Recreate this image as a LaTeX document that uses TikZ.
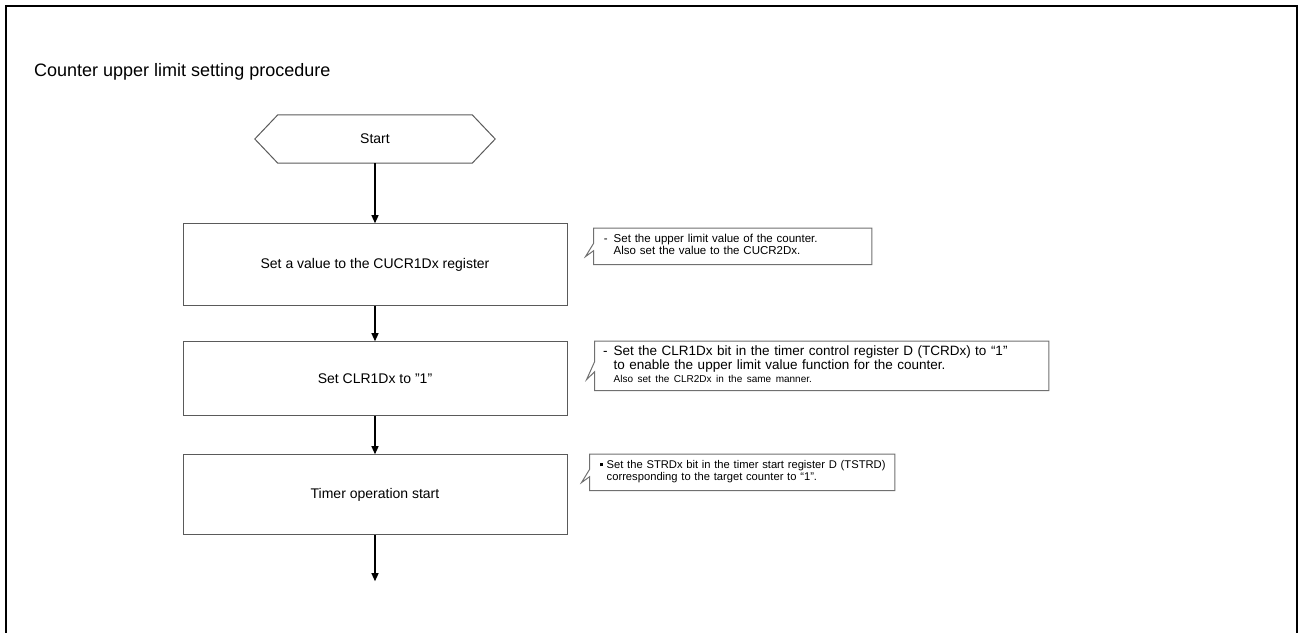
\documentclass[tikz,border=0pt]{standalone}
\usepackage{fontspec}
\setmainfont{Liberation Sans}
\usetikzlibrary{arrows.meta,positioning,calc}
\definecolor{ink}{HTML}{000000}
\definecolor{boxline}{HTML}{5A5A5A}
\definecolor{noteline}{HTML}{707070}
\tikzset{
  >={Triangle[length=8pt,width=7pt]},
  every node/.style={text=ink},
  frame/.style={draw=ink,line width=2.5pt},
  title/.style={anchor=west,inner sep=0pt,font=\fontsize{18}{20}\selectfont},
  startbox/.style={minimum width=240pt,minimum height=48pt,inner sep=0pt,font=\fontsize{14}{16}\selectfont},
  startline/.style={draw=boxline,line width=1pt},
  stepbox/.style={draw=boxline,line width=1pt,minimum width=384pt,align=center,font=\fontsize{14}{16}\selectfont},
  note/.style={fill=white,anchor=north west,inner xsep=0pt,inner ysep=2pt,align=left,font=\fontsize{11.5}{12}\selectfont},
  noteline/.style={draw=noteline,line width=1pt},
  arrow/.style={->,draw=ink,line width=1.3pt},
}
\newcommand{\notedash}{\llap{-\hspace{6pt}}}
\newcommand{\notesquare}{\llap{\raisebox{2.5pt}{\rule{3pt}{3pt}}\hspace{4pt}}}
\newcommand{\notesmall}{\fontsize{10}{11}\selectfont}
\newcommand{\notebody}[2]{\hspace*{#1}\begin{tabular}{@{}l@{}}#2\end{tabular}}

\begin{document}
\begin{tikzpicture}[x=1pt,y=-1pt]
\useasboundingbox (0,0) rectangle (1301,632);

% outer frame (open at the bottom)
\draw[frame] (6,640) -- (6,6) -- (1297,6) -- (1297,640);

\node[title] (title) at (34,72) {Counter upper limit setting procedure};

% flow
\node[startbox] (start) at (375,139) {Start};
\draw[startline] (start.west) -- ($(start.north west)+(23,0)$) -- ($(start.north east)+(-23,0)$)
  -- (start.east) -- ($(start.south east)+(-23,0)$) -- ($(start.south west)+(23,0)$) -- cycle;

\node[stepbox,minimum height=82pt,below=60pt of start] (b1) {Set a value to the CUCR1Dx register};
\node[stepbox,minimum height=74pt,below=35pt of b1] (b2) {Set CLR1Dx to "1"};
\node[stepbox,minimum height=80pt,below=38pt of b2] (b3) {Timer operation start};
\coordinate[below=46pt of b3] (end);

\draw[arrow] (start) -- (b1);
\draw[arrow] (b1) -- (b2);
\draw[arrow] (b2) -- (b3);
\draw[arrow] (b3) -- (end);

% notes
\node[note,text width=278pt,minimum height=36pt,right=26pt of b1.north east,anchor=north west,yshift=-5pt] (n1)
{\notebody{20pt}{\notedash Set the upper limit value of the counter.\\
Also set the value to the CUCR2Dx.}};
\node[note,text width=454pt,minimum height=49pt,right=27pt of b2.north east,anchor=north west,font=\fontsize{13.5}{13}\selectfont] (n2)
{\notebody{19pt}{\notedash Set the CLR1Dx bit in the timer control register D (TCRDx) to “1”\\
to enable the upper limit value function for the counter.\\
\notesmall Also set the CLR2Dx in the same manner.}};
\node[note,text width=305pt,minimum height=36pt,right=22pt of b3.north east,anchor=north west,font=\fontsize{11.2}{12}\selectfont] (n3)
{\notebody{17pt}{\notesquare Set the STRDx bit in the timer start register D (TSTRD)\\
corresponding to the target counter to “1”.}};

\foreach \n in {n1,n2,n3}{
  \draw[noteline] ($(\n.north west)!0.42!(\n.south west)$) -- (\n.north west) -- (\n.north east)
    -- (\n.south east) -- (\n.south west) -- ($(\n.north west)!0.62!(\n.south west)$)
    -- ($(\n.north west)!0.78!(\n.south west)+(-8,0)$) -- cycle;
}
\end{tikzpicture}
\end{document}
